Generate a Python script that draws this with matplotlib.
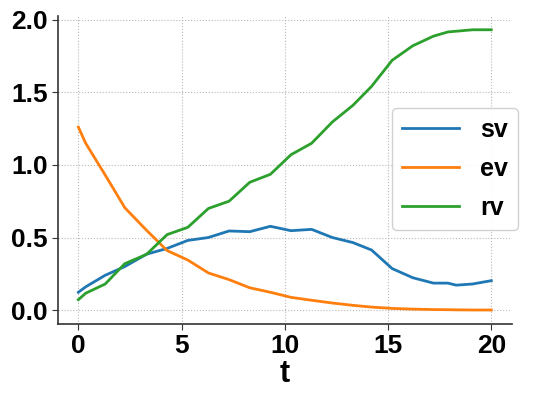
import numpy as np
import matplotlib.pyplot as plt

# time grid and the three series
t = [0, 0.35, 1.3, 2.25, 3.3, 4.3, 5.3, 6.3, 7.3, 8.3, 9.3, 10.3, 11.3,
     12.3, 13.3, 14.2, 15.2, 16.2, 17.2, 17.9, 18.3, 19.1, 20]
sv = [0.123, 0.16, 0.24, 0.30, 0.385, 0.425, 0.48, 0.50, 0.545, 0.54, 0.577, 0.547, 0.556,
      0.50, 0.465, 0.414, 0.286, 0.223, 0.186, 0.186, 0.172, 0.18, 0.203]
ev = [1.26, 1.15, 0.93, 0.705, 0.55, 0.41, 0.345, 0.256, 0.21, 0.154, 0.123, 0.088, 0.068,
      0.049, 0.033, 0.021, 0.012, 0.007, 0.004, 0.003, 0.002, 0.001, 0.001]
rv = [0.072, 0.116, 0.18, 0.32, 0.384, 0.52, 0.57, 0.70, 0.75, 0.88, 0.935, 1.07, 1.149,
      1.295, 1.41, 1.54, 1.72, 1.82, 1.886, 1.915, 1.92, 1.93, 1.93]

plt.rcParams['font.family'] = ['Liberation Sans', 'DejaVu Sans']
plt.rcParams['font.weight'] = 'bold'

fig = plt.figure(figsize=(5.42, 4.04), dpi=100)
ax = fig.add_axes([0.1065, 0.198, 0.838, 0.763])

ax.plot(t, sv, color='#1f77b4', lw=2, label='sv')
ax.plot(t, ev, color='#ff7f0e', lw=2, label='ev')
ax.plot(t, rv, color='#2ca02c', lw=2, label='rv')

ax.grid(True, linestyle=':', color='#b8b8b8', linewidth=0.8)
for s in ['top', 'right']:
    ax.spines[s].set_visible(False)
for s in ['left', 'bottom']:
    ax.spines[s].set_color('#333333')
    ax.spines[s].set_linewidth(1.2)

ax.set_xticks([0, 5, 10, 15, 20])
ax.set_yticks([0.0, 0.5, 1.0, 1.5, 2.0])
ax.tick_params(labelsize=19, length=4, color='#333333', pad=3)
for lab in ax.get_xticklabels() + ax.get_yticklabels():
    lab.set_fontweight('bold')
ax.set_xlabel('t', fontsize=22, fontweight='bold', labelpad=1)

ax.legend(loc='center right', bbox_to_anchor=(1.013, 0.504), borderaxespad=0,
          prop={'size': 18, 'weight': 'bold'},
          handlelength=2.25, handletextpad=0.85, labelspacing=0.6, borderpad=0.4,
          framealpha=0.9, edgecolor='#cccccc')

fig.savefig('out.png', dpi=100)
